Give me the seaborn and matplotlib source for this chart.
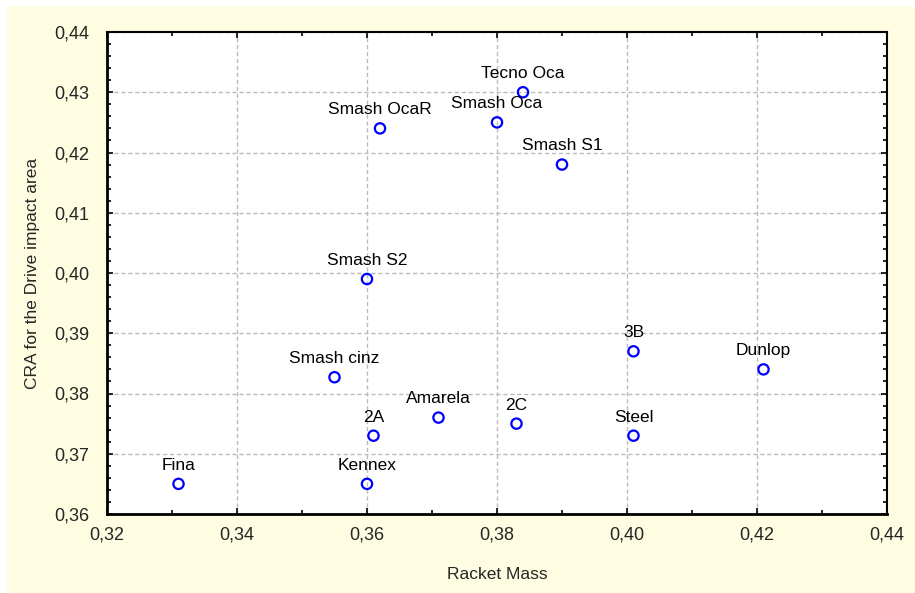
import numpy as np
import pandas as pd
import matplotlib
matplotlib.use("Agg")
import matplotlib.pyplot as plt
import seaborn as sns
from matplotlib.ticker import MultipleLocator, FuncFormatter
from matplotlib.patches import Rectangle

# data
rackets = ["Fina", "Kennex", "2A", "Smash cinz", "Amarela", "2C", "Steel", "3B",
           "Dunlop", "Smash S2", "Smash OcaR", "Smash Oca", "Tecno Oca", "Smash S1"]
racket_mass = [0.331, 0.360, 0.361, 0.355, 0.371, 0.383, 0.401, 0.401,
               0.421, 0.360, 0.362, 0.380, 0.384, 0.390]
cra_drive = [0.365, 0.365, 0.373, 0.3827, 0.376, 0.375, 0.373, 0.387,
             0.384, 0.399, 0.424, 0.425, 0.430, 0.418]

df = pd.DataFrame({"Racket": rackets, "Racket Mass": racket_mass,
                   "CRA": cra_drive})

sns.set_style("white")
plt.rcParams['font.family'] = ['Liberation Sans', 'DejaVu Sans']

fig = plt.figure(figsize=(9.15, 5.93), dpi=100)
fig.patches.append(Rectangle((7 / 915, 0), 1, 1 - 6 / 593, transform=fig.transFigure,
                             facecolor="#fffde1", edgecolor="none", zorder=-10))
ax = fig.add_axes([107 / 915, 1 - 514 / 593, 780 / 915, 482 / 593])

sns.scatterplot(data=df, x="Racket Mass", y="CRA", ax=ax, marker="o",
                facecolor="none", edgecolor="#0000ff", linewidth=1.6, s=55, zorder=3)

for name, xv, yv in zip(rackets, racket_mass, cra_drive):
    ax.annotate(name, (xv, yv), xytext=(0, 8), textcoords="offset points",
                ha="center", va="bottom", fontsize=12.5, color="black")

ax.set_xlim(0.32, 0.44)
ax.set_ylim(0.36, 0.44)
ax.xaxis.set_major_locator(MultipleLocator(0.02))
ax.xaxis.set_minor_locator(MultipleLocator(0.01))
ax.yaxis.set_major_locator(MultipleLocator(0.01))
ax.yaxis.set_minor_locator(MultipleLocator(0.002))
fmt = FuncFormatter(lambda v, p: f"{v:.2f}".replace(".", ","))
ax.xaxis.set_major_formatter(fmt)
ax.yaxis.set_major_formatter(fmt)

ax.tick_params(which="both", direction="in", top=True, right=True,
               bottom=True, left=True, color="black", width=1.2)
ax.tick_params(which="major", length=4, labelsize=13)
ax.tick_params(axis="y", which="major", pad=13)
ax.tick_params(axis="x", which="major", pad=9)
ax.tick_params(which="minor", length=3)

ax.grid(True, which="major", linestyle=(0, (3, 2)), color="#bbbbbb", linewidth=1)
for side in ["left", "bottom"]:
    ax.spines[side].set_linewidth(2)
for side in ["top", "right"]:
    ax.spines[side].set_linewidth(1.5)
for s in ax.spines.values():
    s.set_color("black")

ax.set_xlabel("Racket Mass", fontsize=12.5, labelpad=17)
ax.set_ylabel("CRA for the Drive impact area", fontsize=12.5, labelpad=10)
ax.set_facecolor("white")

fig.savefig("out.png", dpi=100)
